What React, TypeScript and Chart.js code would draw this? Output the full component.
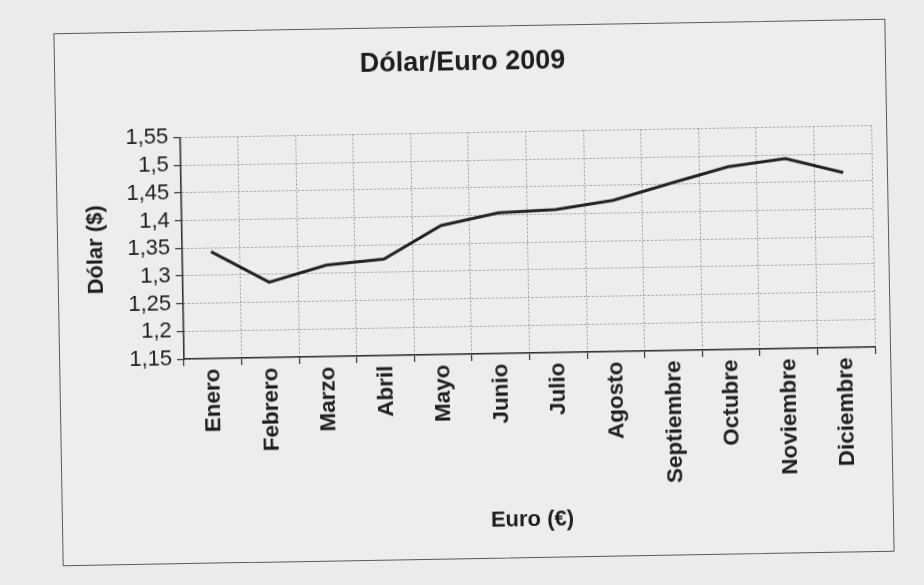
import React, { useEffect, useRef } from "react";
import { Chart, registerables } from "chart.js";

Chart.register(...registerables);

const chartTitle = "Dólar/Euro 2009";
const xAxisTitle = "Euro (€)";
const yAxisTitle = "Dólar ($)";
const categories = [
  "Enero",
  "Febrero",
  "Marzo",
  "Abril",
  "Mayo",
  "Junio",
  "Julio",
  "Agosto",
  "Septiembre",
  "Octubre",
  "Noviembre",
  "Diciembre",
];
const dolarValues = [1.343, 1.286, 1.315, 1.324, 1.383, 1.404, 1.408, 1.423, 1.452, 1.48, 1.493, 1.466];
const yTicks = [1.15, 1.2, 1.25, 1.3, 1.35, 1.4, 1.45, 1.5, 1.55];
const yTickLabels = ["1,15", "1,2", "1,25", "1,3", "1,35", "1,4", "1,45", "1,5", "1,55"];

const FONT = "'Liberation Sans', Arial, sans-serif";
const TEXT = "#1e1e1e";

export default function App() {
  const canvasRef = useRef<HTMLCanvasElement | null>(null);

  useEffect(() => {
    const canvas = canvasRef.current;
    if (!canvas) return;
    const chart = new Chart(canvas, {
      type: "line",
      data: {
        labels: categories,
        datasets: [
          {
            label: "Dólar",
            data: dolarValues,
            borderColor: "#222222",
            borderWidth: 3,
            pointRadius: 0,
            tension: 0,
            fill: false,
          },
        ],
      },
      options: {
        animation: false,
        responsive: false,
        layout: { padding: { left: 0, right: 15, top: 0, bottom: 0 } },
        plugins: {
          legend: { display: false },
          tooltip: { enabled: false },
          title: {
            display: true,
            text: chartTitle,
            color: TEXT,
            font: { family: FONT, size: 27, weight: "bold" },
            padding: { top: 19, bottom: 54 },
          },
        },
        scales: {
          x: {
            type: "category",
            offset: true,
            afterFit: (scale: any) => {
              scale.height = 204;
            },
            grid: {
              offset: true,
              color: "#9a9a9a",
              lineWidth: 1,
              drawTicks: true,
              tickLength: 7,
              tickColor: "#333",
              tickWidth: 1.2,
              tickBorderDash: [],
            },
            border: { display: true, color: "#333", width: 1.6, dash: [2, 2] },
            ticks: {
              color: TEXT,
              font: { family: FONT, size: 22.5, weight: "bold" },
              maxRotation: 90,
              minRotation: 90,
              padding: 3,
              autoSkip: false,
            },
            title: {
              display: true,
              text: xAxisTitle,
              color: TEXT,
              font: { family: FONT, size: 22, weight: "bold" },
              padding: { top: 0, bottom: 24 },
            },
          },
          y: {
            type: "linear",
            min: 1.15,
            max: 1.55,
            afterFit: (scale: any) => {
              scale.width = 124;
            },
            afterBuildTicks: (scale: any) => {
              scale.ticks = yTicks.map((v) => ({ value: v }));
            },
            grid: {
              color: "#9a9a9a",
              lineWidth: 1,
              drawTicks: true,
              tickLength: 7,
              tickColor: "#333",
              tickWidth: 1.2,
              tickBorderDash: [],
            },
            border: { display: true, color: "#333", width: 1.6, dash: [2, 2] },
            ticks: {
              color: TEXT,
              font: { family: FONT, size: 22 },
              padding: 5,
              autoSkip: false,
              callback: (value: any) => {
                const i = yTicks.findIndex((t) => Math.abs(t - Number(value)) < 1e-6);
                return i >= 0 ? yTickLabels[i] : "";
              },
            },
            title: {
              display: true,
              text: yAxisTitle,
              color: TEXT,
              font: { family: FONT, size: 22, weight: "bold" },
              padding: { top: 25, bottom: 0 },
            },
          },
        },
      },
    });
    return () => chart.destroy();
  }, []);

  return (
    <div
      style={{
        position: "fixed",
        left: 0,
        top: 0,
        width: 924,
        height: 585,
        background: "#ebebeb",
        overflow: "hidden",
      }}
    >
      <div
        style={{
          position: "absolute",
          left: 58,
          top: 26,
          width: 830,
          height: 531,
          border: "1px solid #5a5a5a",
          background: "#ededed",
          transform: "rotate(-1deg)",
          transformOrigin: "50% 50%",
        }}
      >
        <canvas ref={canvasRef} width={830} height={531} style={{ display: "block" }} />
      </div>
    </div>
  );
}
